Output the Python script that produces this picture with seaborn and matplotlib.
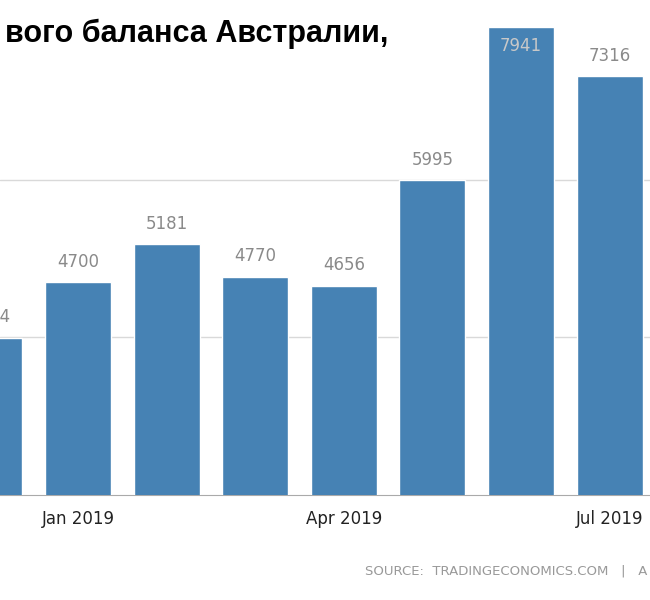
import matplotlib
matplotlib.use("Agg")
import matplotlib.pyplot as plt
import seaborn as sns
import pandas as pd

months = ["Dec 2018", "Jan 2019", "Feb 2019", "Mar 2019", "Apr 2019", "May 2019", "Jun 2019", "Jul 2019"]
values = [3994, 4700, 5181, 4770, 4656, 5995, 7941, 7316]
tick_labels = {1: "Jan 2019", 4: "Apr 2019", 7: "Jul 2019"}

sns.set_style("white")
plt.rcParams['font.family'] = ['DejaVu Sans']
fig = plt.figure(figsize=(6.5, 6.0), dpi=100)
ax = fig.add_axes([0.0, 0.175, 1.0, 0.825])
df = pd.DataFrame({"x": list(range(len(months))), "v": values})
ax.bar(df["x"], df["v"], width=0.745, color="#4682B4", zorder=3)
ax.set_xlim(0.12, 7.456)
ymax = 8282
ax.set_ylim(2000, ymax)
for g in [4000, 6000]:
    ax.axhline(g, color="#d9d9d9", lw=1, zorder=1)
for s in ["top", "right", "left"]:
    ax.spines[s].set_visible(False)
ax.spines["bottom"].set_color("#aaaaaa")
ax.set_yticks([])
ax.set_xticks(list(tick_labels.keys()))
ax.set_xticklabels(list(tick_labels.values()), fontsize=12, color="#222222")
ax.tick_params(axis="x", length=5, color="#aaaaaa", pad=6)
for x, v in zip(df["x"], df["v"]):
    if v + 350 > ymax:
        ax.text(x, v - 240, str(v), ha="center", va="center", fontsize=12, color="#c8c8c8", zorder=4)
    else:
        ax.text(x, v + 260, str(v), ha="center", va="center", fontsize=12, color="#8a8a8a", zorder=4)
fig.text(0.008, 0.93, "вого баланса Австралии,", fontsize=22, fontweight="bold",
         color="black", ha="left", family=["Liberation Sans", "DejaVu Sans"])
fig.text(0.562, 0.043, "SOURCE:  TRADINGECONOMICS.COM   |   A", fontsize=9.5, color="#999999", ha="left")
fig.savefig("out.png", dpi=100)
